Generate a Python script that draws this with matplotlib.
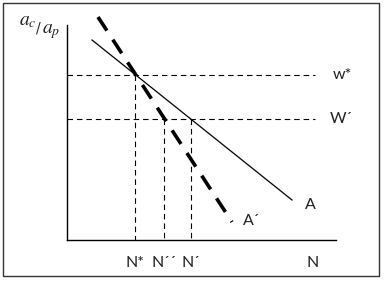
import matplotlib.pyplot as plt
from matplotlib.patches import Rectangle

# schematic coordinates (pixel space of the diagram, y grows downward)
axis_origin = (67, 240)
axis_top = 25
axis_right = 336

line_A_x = [92, 292]
line_A_y = [40, 200]
line_A2_x = [98, 232]
line_A2_y = [17, 222]

wage_levels = [75, 119]
wage_labels = ["w*", "W\u00b4"]
wage_label_x = [333, 330]

n_positions = [135, 164, 191]
n_tops = [75, 119, 119]
n_labels = ["N*", "N\u00b4\u00b4", "N\u00b4"]

fig = plt.figure(figsize=(3.85, 2.81), dpi=100)
ax = fig.add_axes([0, 0, 1, 1])
ax.set_xlim(0, 385)
ax.set_ylim(281, 0)
ax.axis("off")

font = "Lato"
fs = 11.5
txt = "#222222"

# frame
ax.add_patch(Rectangle((3, 3), 376, 273, fill=False, edgecolor="#333333", lw=1.0))

# axes
ax.plot([axis_origin[0], axis_origin[0]], [axis_top, axis_origin[1]], color="black", lw=1.0)
ax.plot([axis_origin[0], axis_right], [axis_origin[1], axis_origin[1]], color="black", lw=1.0)

# horizontal wage lines
for y, lab, lx in zip(wage_levels, wage_labels, wage_label_x):
    ax.plot([axis_origin[0], 315], [y, y], color="black", lw=0.8, dashes=(5, 3.5))
    ax.text(lx, y, lab, fontsize=fs, family=font, color=txt, va="center", ha="left")

# vertical lines
for x, top, lab in zip(n_positions, n_tops, n_labels):
    ax.plot([x, x], [top, axis_origin[1]], color="black", lw=0.8, dashes=(5, 3.5))
    ax.text(x, 263, lab, fontsize=fs, family=font, color=txt, va="center", ha="center")
ax.text(313, 263, "N", fontsize=fs, family=font, color=txt, va="center", ha="center")

# curves
ax.plot(line_A_x, line_A_y, color="black", lw=0.9)
ax.plot(line_A2_x, line_A2_y, color="black", lw=2.6, dashes=(4.5, 3))
ax.text(305, 205, "A", fontsize=fs, family=font, color=txt, va="center", ha="left")
ax.text(243, 221, "A\u00b4", fontsize=fs, family=font, color=txt, va="center", ha="left")

# y label
ax.text(19, 20, r"$a_c$", fontsize=14, color=txt, va="center", ha="left", math_fontfamily="stix")
ax.text(36, 29, "/", fontsize=10, color=txt, va="center", ha="left", family="DejaVu Serif")
ax.text(42, 31, r"$a_p$", fontsize=14, color=txt, va="center", ha="left", math_fontfamily="stix")

fig.savefig("out.png", dpi=100)
